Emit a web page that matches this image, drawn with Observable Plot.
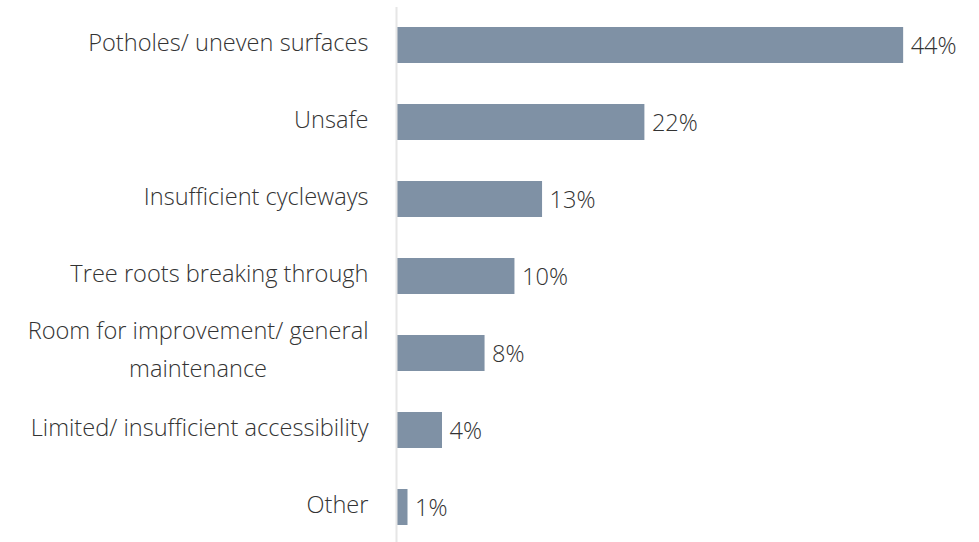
<!DOCTYPE html>
<html>
<head>
<meta charset="utf-8">
<script src="https://cdn.jsdelivr.net/npm/d3@7"></script>
<script src="https://cdn.jsdelivr.net/npm/@observablehq/plot@0.6"></script>
<style>
  html, body { margin: 0; padding: 0; background: #fff; overflow: hidden; }
  #chart svg { display: block; }
</style>
</head>
<body>
<div id="chart"></div>
<script>
const categories = [
  "Potholes/ uneven surfaces",
  "Unsafe",
  "Insufficient cycleways",
  "Tree roots breaking through",
  "Room for improvement/ general\nmaintenance",
  "Limited/ insufficient accessibility",
  "Other"
];
const values = [44.1, 21.6, 12.7, 10.3, 7.7, 4.0, 1.0];
const valueLabels = ["44%", "22%", "13%", "10%", "8%", "4%", "1%"];

const data = categories.map((c, i) => ({category: c, value: values[i], label: valueLabels[i]}));

const FONT = "'Open Sans', Lato, sans-serif";
const FS = 23.6;

const chart = Plot.plot({
  width: 979,
  height: 542,
  marginTop: 7,
  marginBottom: 0,
  marginLeft: 396,
  marginRight: 8,
  style: {fontFamily: FONT, fontWeight: 300, background: "#fff"},
  x: {domain: [0, 50], range: [396, 971], axis: null},
  y: {domain: categories, range: [6.5, 545.5], paddingInner: 0.53, paddingOuter: 0.265, axis: null},
  marks: [
    Plot.barX(data, {x: "value", y: "category", fill: "#7f91a5"}),
    Plot.ruleX([0], {stroke: "#e6e6e6", strokeWidth: 2}),
    Plot.text(data, {
      x: 0, y: "category", text: "category", textAnchor: "end", dx: -28, dy: -2,
      fontSize: FS, fill: "#333", fontWeight: 300
    }),
    Plot.text(data, {
      x: "value", y: "category", text: "label", textAnchor: "start", dx: 7, dy: 1,
      fontSize: FS, fill: "#333", fontWeight: 300
    })
  ]
});
document.getElementById("chart").appendChild(chart);

// multi-line labels: lines centered on each other, block right-aligned, 38px line spacing
chart.querySelectorAll("text").forEach(t => {
  const spans = t.querySelectorAll("tspan");
  if (spans.length > 1) {
    let maxW = 0;
    spans.forEach(s => { maxW = Math.max(maxW, s.getComputedTextLength()); });
    t.setAttribute("text-anchor", "middle");
    const step = 38;
    spans.forEach((s, i) => {
      s.setAttribute("x", -maxW / 2);
      s.setAttribute("dy", i === 0 ? `${-step * (spans.length - 1) / 2 + 0.32 * FS + 3}px` : `${step}px`);
    });
  }
});
</script>
</body>
</html>
